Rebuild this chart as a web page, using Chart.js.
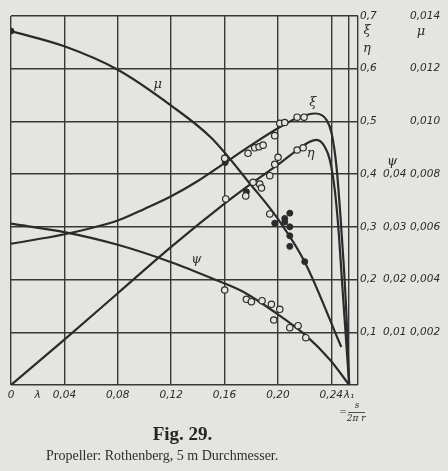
<!DOCTYPE html>
<html>
<head>
<meta charset="utf-8">
<script src="https://cdn.jsdelivr.net/npm/chart.js@4.4.1/dist/chart.umd.min.js"></script>
<style>
  html, body { margin: 0; padding: 0; background: #e4e4e1; }
  #wrap { position: relative; width: 448px; height: 471px; overflow: hidden; }
  #chart { position: absolute; left: 0; top: 0; }
  .fig { position: absolute; left: 0; width: 365px; top: 423px; text-align: center;
         font: bold 19px "Liberation Serif", "DejaVu Serif", serif; color: #252525; }
  .cap { position: absolute; left: 46px; top: 448px;
         font: 14px "Liberation Serif", "DejaVu Serif", serif; color: #2e2e2e; }
</style>
</head>
<body>
<div id="wrap">
  <canvas id="chart" width="448" height="471"></canvas>
  <div class="fig">Fig. 29.</div>
  <div class="cap">Propeller: Rothenberg, 5 m Durchmesser.</div>
</div>
<script>
// axis ticks
const xTickValues = [0, 0.02, 0.04, 0.08, 0.12, 0.16, 0.20, 0.24, 0.2533, 0.26];
const xTickLabels = ['0', 'λ', '0,04', '0,08', '0,12', '0,16', '0,20', '0,24', 'λ₁', ''];
const yTickValues = [0, 0.1, 0.2, 0.3, 0.4, 0.5, 0.6, 0.7];
const yTickLabels = ['', '0,1', '0,2', '0,3', '0,4', '0,5', '0,6', '0,7'];
const psiTickValues = [0.01, 0.02, 0.03, 0.04];
const psiTickLabels = ['0,01', '0,02', '0,03', '0,04'];
const muTickValues = [0.002, 0.004, 0.006, 0.008, 0.010, 0.012, 0.014];
const muTickLabels = ['0,002', '0,004', '0,006', '0,008', '0,010', '0,012', '0,014'];

// xi curve
const xiLambda = [0, 0.04, 0.08, 0.10, 0.12, 0.14, 0.16, 0.18, 0.20, 0.214, 0.228, 0.2364, 0.2402, 0.2439, 0.2469, 0.2494, 0.2514, 0.2534];
const xiValues = [0.268, 0.286, 0.312, 0.334, 0.358, 0.387, 0.421, 0.455, 0.487, 0.506, 0.515, 0.503, 0.478, 0.414, 0.319, 0.224, 0.130, 0];
// eta curve
const etaLambda = [0, 0.04, 0.08, 0.12, 0.16, 0.18, 0.20, 0.2114, 0.2239, 0.2289, 0.2351, 0.2389, 0.2426, 0.2456, 0.2481, 0.2507, 0.2534];
const etaValues = [0, 0.086, 0.174, 0.262, 0.344, 0.382, 0.418, 0.440, 0.4615, 0.465, 0.452, 0.427, 0.370, 0.288, 0.1935, 0.0986, 0];
// mu curve (right scale)
const muLambda = [0, 0.04, 0.08, 0.12, 0.15, 0.18, 0.20, 0.22, 0.2475];
const muValues = [0.01343, 0.01285, 0.01196, 0.0106, 0.00938, 0.00758, 0.0063, 0.00468, 0.00144];
// psi curve (middle scale)
const psiLambda = [0, 0.04, 0.08, 0.12, 0.15, 0.1739, 0.1989, 0.22, 0.2393, 0.2534];
const psiValues = [0.0306, 0.0290, 0.0266, 0.0233, 0.0203, 0.0177, 0.0136, 0.0096, 0.0047, 0];

// measured points
const xiPtLambda = [0.1601, 0.1776, 0.1826, 0.1859, 0.1889, 0.1976, 0.2014, 0.2051, 0.2144, 0.2196];
const xiPtValues = [0.430, 0.4395, 0.450, 0.452, 0.455, 0.473, 0.4965, 0.498, 0.508, 0.508];
const etaPtLambda = [0.1609, 0.1759, 0.1814, 0.1864, 0.1877, 0.1939, 0.1976, 0.2001, 0.2144, 0.2189];
const etaPtValues = [0.3529, 0.3586, 0.3845, 0.381, 0.3737, 0.397, 0.4187, 0.432, 0.4458, 0.450];
const psiPtLambda = [0.1601, 0.1764, 0.1801, 0.1881, 0.1951, 0.2014, 0.1969, 0.2089, 0.2151, 0.2209];
const psiPtValues = [0.01802, 0.01626, 0.0158, 0.01599, 0.01531, 0.01436, 0.01233, 0.01087, 0.01125, 0.00897];
const muDotLambda = [0, 0.1605, 0.1764, 0.1976, 0.2051, 0.2089, 0.2051, 0.2089, 0.2089, 0.2089, 0.2201];
const muDotValues = [0.01343, 0.00844, 0.00733, 0.00614, 0.00632, 0.00652, 0.00618, 0.0060, 0.00566, 0.00526, 0.00468];
const muOpenLambda = [0.1939];
const muOpenValues = [0.00649];

// curve names: [text, lambda, value on main scale]
const curveNames = [['μ', 0.110, 0.569], ['ξ', 0.2261, 0.535], ['η', 0.2246, 0.438], ['ψ', 0.1389, 0.237]];

const ink = '#2b2b2b';
const paper = '#e4e4e1';

function pts(xs, ys) {
  return xs.map((x, i) => ({ x: x, y: ys[i] }));
}

function curve(xs, ys, axis) {
  return {
    data: pts(xs, ys), yAxisID: axis, borderColor: ink, borderWidth: 2.2,
    pointRadius: 0, cubicInterpolationMode: 'monotone', fill: false, order: 2
  };
}

function marks(xs, ys, axis, open) {
  return {
    data: pts(xs, ys), yAxisID: axis, showLine: false, order: 0,
    pointRadius: open ? 3.2 : 3, pointBorderWidth: open ? 1.2 : 1,
    pointBorderColor: ink, pointBackgroundColor: open ? paper : ink
  };
}

const labelFont = { family: 'DejaVu Sans', size: 10.5, style: 'italic' };

const decorPlugin = {
  id: 'decor',
  afterDraw(chart) {
    const ctx = chart.ctx;
    const sx = chart.scales.x, sy = chart.scales.y;
    const sPsi = chart.scales.yPsi, sMu = chart.scales.yMu;
    ctx.save();
    ctx.fillStyle = ink;
    ctx.textAlign = 'center';
    ctx.textBaseline = 'middle';
    ctx.font = 'italic 13px "DejaVu Serif", serif';
    curveNames.forEach(c => {
      ctx.fillText(c[0], sx.getPixelForValue(c[1]), sy.getPixelForValue(c[2]));
    });
    // axis symbols on the right
    ctx.fillText('ξ', sy.left + 9, sy.getPixelForValue(0.672));
    ctx.fillText('η', sy.left + 9, sy.getPixelForValue(0.638));
    ctx.fillText('ψ', sPsi.left + 10, sPsi.getPixelForValue(0.0423));
    ctx.fillText('μ', sMu.left + 13, sMu.getPixelForValue(0.0134));
    // λ1 = s / (2π r)
    const xl = sx.getPixelForValue(0.2533);
    const yb = sx.bottom;
    ctx.font = 'italic 9px "DejaVu Serif", serif';
    ctx.fillText('=', xl - 6, yb + 6);
    ctx.fillText('s', xl + 8, yb - 1);
    ctx.fillText('2π r', xl + 7, yb + 12);
    ctx.strokeStyle = ink;
    ctx.lineWidth = 0.8;
    ctx.beginPath();
    ctx.moveTo(xl - 1, yb + 5.5);
    ctx.lineTo(xl + 16, yb + 5.5);
    ctx.stroke();
    ctx.restore();
  }
};

new Chart(document.getElementById('chart'), {
  type: 'line',
  data: {
    datasets: [
      curve(xiLambda, xiValues, 'y'),
      curve(etaLambda, etaValues, 'y'),
      curve(muLambda, muValues, 'yMu'),
      curve(psiLambda, psiValues, 'yPsi'),
      marks(xiPtLambda, xiPtValues, 'y', true),
      marks(etaPtLambda, etaPtValues, 'y', true),
      marks(psiPtLambda, psiPtValues, 'yPsi', true),
      marks(muDotLambda, muDotValues, 'yMu', false),
      marks(muOpenLambda, muOpenValues, 'yMu', true)
    ]
  },
  options: {
    responsive: false,
    animation: false,
    devicePixelRatio: 1,
    layout: { padding: { left: 11, top: 16, right: 0, bottom: 64 } },
    plugins: { legend: { display: false }, tooltip: { enabled: false } },
    scales: {
      x: {
        type: 'linear', min: 0, max: 0.26,
        afterBuildTicks: s => { s.ticks = xTickValues.map(v => ({ value: v })); },
        afterFit: s => { s.height = 22; },
        ticks: {
          autoSkip: false, maxRotation: 0, padding: 4, color: ink, font: labelFont,
          callback: (v, i) => xTickLabels[i]
        },
        grid: {
          drawTicks: false, lineWidth: 1.4,
          color: c => (c.tick && c.tick.value === 0.02) ? 'rgba(0,0,0,0)' : '#383838'
        },
        border: { display: false }
      },
      y: {
        position: 'right', min: 0, max: 0.7,
        afterBuildTicks: s => { s.ticks = yTickValues.map(v => ({ value: v })); },
        afterFit: s => { s.width = 24; },
        ticks: { padding: 2, color: ink, font: labelFont, callback: (v, i) => yTickLabels[i] },
        grid: { drawTicks: false, lineWidth: 1.4, color: '#383838' },
        border: { display: false }
      },
      yPsi: {
        position: 'right', min: 0, max: 0.07,
        afterBuildTicks: s => { s.ticks = psiTickValues.map(v => ({ value: v })); },
        afterFit: s => { s.width = 26; },
        ticks: { padding: 1, color: ink, font: labelFont, callback: (v, i) => psiTickLabels[i] },
        grid: { display: false, drawTicks: false },
        border: { display: false }
      },
      yMu: {
        position: 'right', min: 0, max: 0.014,
        afterBuildTicks: s => { s.ticks = muTickValues.map(v => ({ value: v })); },
        afterFit: s => { s.width = 40; },
        ticks: { padding: 2, color: ink, font: labelFont, callback: (v, i) => muTickLabels[i] },
        grid: { display: false, drawTicks: false },
        border: { display: false }
      }
    }
  },
  plugins: [decorPlugin]
});
</script>
</body>
</html>
